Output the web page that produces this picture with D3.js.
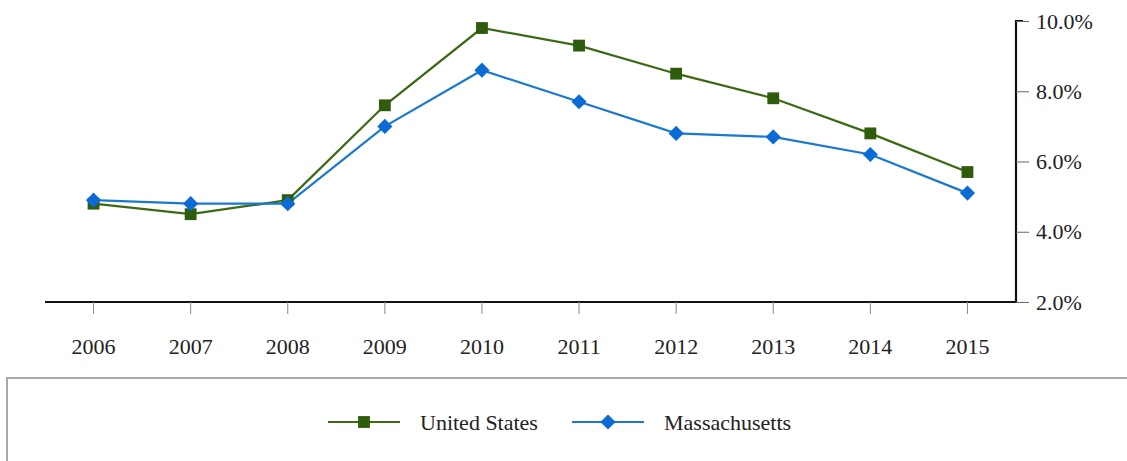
<!DOCTYPE html>
<html>
<head>
<meta charset="utf-8">
<script src="https://cdn.jsdelivr.net/npm/d3@7/dist/d3.min.js"></script>
<style>
  html, body { margin: 0; padding: 0; background: #fff; }
  svg { display: block; }
</style>
</head>
<body>
<svg id="chart" width="1127" height="461"></svg>
<script>
const years = ["2006","2007","2008","2009","2010","2011","2012","2013","2014","2015"];
const unitedStates = [4.8, 4.5, 4.9, 7.6, 9.8, 9.3, 8.5, 7.8, 6.8, 5.7];
const massachusetts = [4.9, 4.8, 4.8, 7.0, 8.6, 7.7, 6.8, 6.7, 6.2, 5.1];
const yTicks = [2, 4, 6, 8, 10];
const seriesNames = ["United States", "Massachusetts"];

const svg = d3.select("#chart");
const font = "'Liberation Serif', 'Times New Roman', serif";
const fs = 22;

const x = d3.scaleBand().domain(years).range([45, 1016]);
const y = d3.scaleLinear().domain([2, 10]).range([302, 21]);
const cx = d => x(d) + x.bandwidth() / 2;

const series = [
  { name: seriesNames[0], values: unitedStates, line: "#3b6a12", marker: "#2f5c0c", shape: d3.symbolSquare, size: 140, rot: 0 },
  { name: seriesNames[1], values: massachusetts, line: "#1a78cf", marker: "#0a6ad6", shape: d3.symbolSquare, size: 115, rot: 45 }
];

// x axis
const xAxis = svg.append("g")
  .attr("transform", "translate(0,302)")
  .call(d3.axisBottom(x).tickSize(12).tickPadding(24));
xAxis.select(".domain").attr("stroke", "#111").attr("stroke-width", 2.2)
  .attr("d", "M45,0H1016");
xAxis.selectAll(".tick line").attr("stroke", "#888").attr("stroke-width", 1);
xAxis.selectAll(".tick text").attr("font-family", font).attr("font-size", fs).attr("fill", "#222");

// y axis (right)
const yAxis = svg.append("g")
  .attr("transform", "translate(1016,0)")
  .call(d3.axisRight(y).tickValues(yTicks).tickSize(13).tickPadding(7)
    .tickFormat(d => d3.format(".1f")(d) + "%"));
yAxis.select(".domain").attr("stroke", "#111").attr("stroke-width", 2.2)
  .attr("d", "M7,21H0V302");
yAxis.selectAll(".tick line").attr("stroke", "#666").attr("stroke-width", 1);
yAxis.selectAll(".tick text").attr("font-family", font).attr("font-size", fs).attr("fill", "#222");

// lines and markers
const lineGen = d3.line().x((d, i) => cx(years[i])).y(d => y(d));
series.forEach(s => {
  svg.append("path")
    .datum(s.values)
    .attr("fill", "none")
    .attr("stroke", s.line)
    .attr("stroke-width", 2.2)
    .attr("d", lineGen);
});
series.forEach(s => {
  svg.append("g").selectAll("path")
    .data(s.values)
    .join("path")
    .attr("transform", (d, i) => `translate(${cx(years[i])},${y(d)}) rotate(${s.rot})`)
    .attr("d", d3.symbol().type(s.shape).size(s.size))
    .attr("fill", s.marker);
});

// legend box
svg.append("rect")
  .attr("x", 7).attr("y", 378).attr("width", 1140).attr("height", 100)
  .attr("fill", "#fff").attr("stroke", "#a8a8a8").attr("stroke-width", 2);

const legendItems = [
  { s: series[0], x0: 328, tx: 420 },
  { s: series[1], x0: 572, tx: 664 }
];
legendItems.forEach(li => {
  const g = svg.append("g");
  g.append("line").attr("x1", li.x0).attr("x2", li.x0 + 72)
    .attr("y1", 422).attr("y2", 422)
    .attr("stroke", li.s.line).attr("stroke-width", 2.2);
  g.append("path")
    .attr("transform", `translate(${li.x0 + 36},422) rotate(${li.s.rot})`)
    .attr("d", d3.symbol().type(li.s.shape).size(li.s.size))
    .attr("fill", li.s.marker);
  g.append("text").attr("x", li.tx).attr("y", 422).attr("dy", "0.35em")
    .attr("font-family", font).attr("font-size", fs).attr("fill", "#222")
    .text(li.s.name);
});
</script>
</body>
</html>
